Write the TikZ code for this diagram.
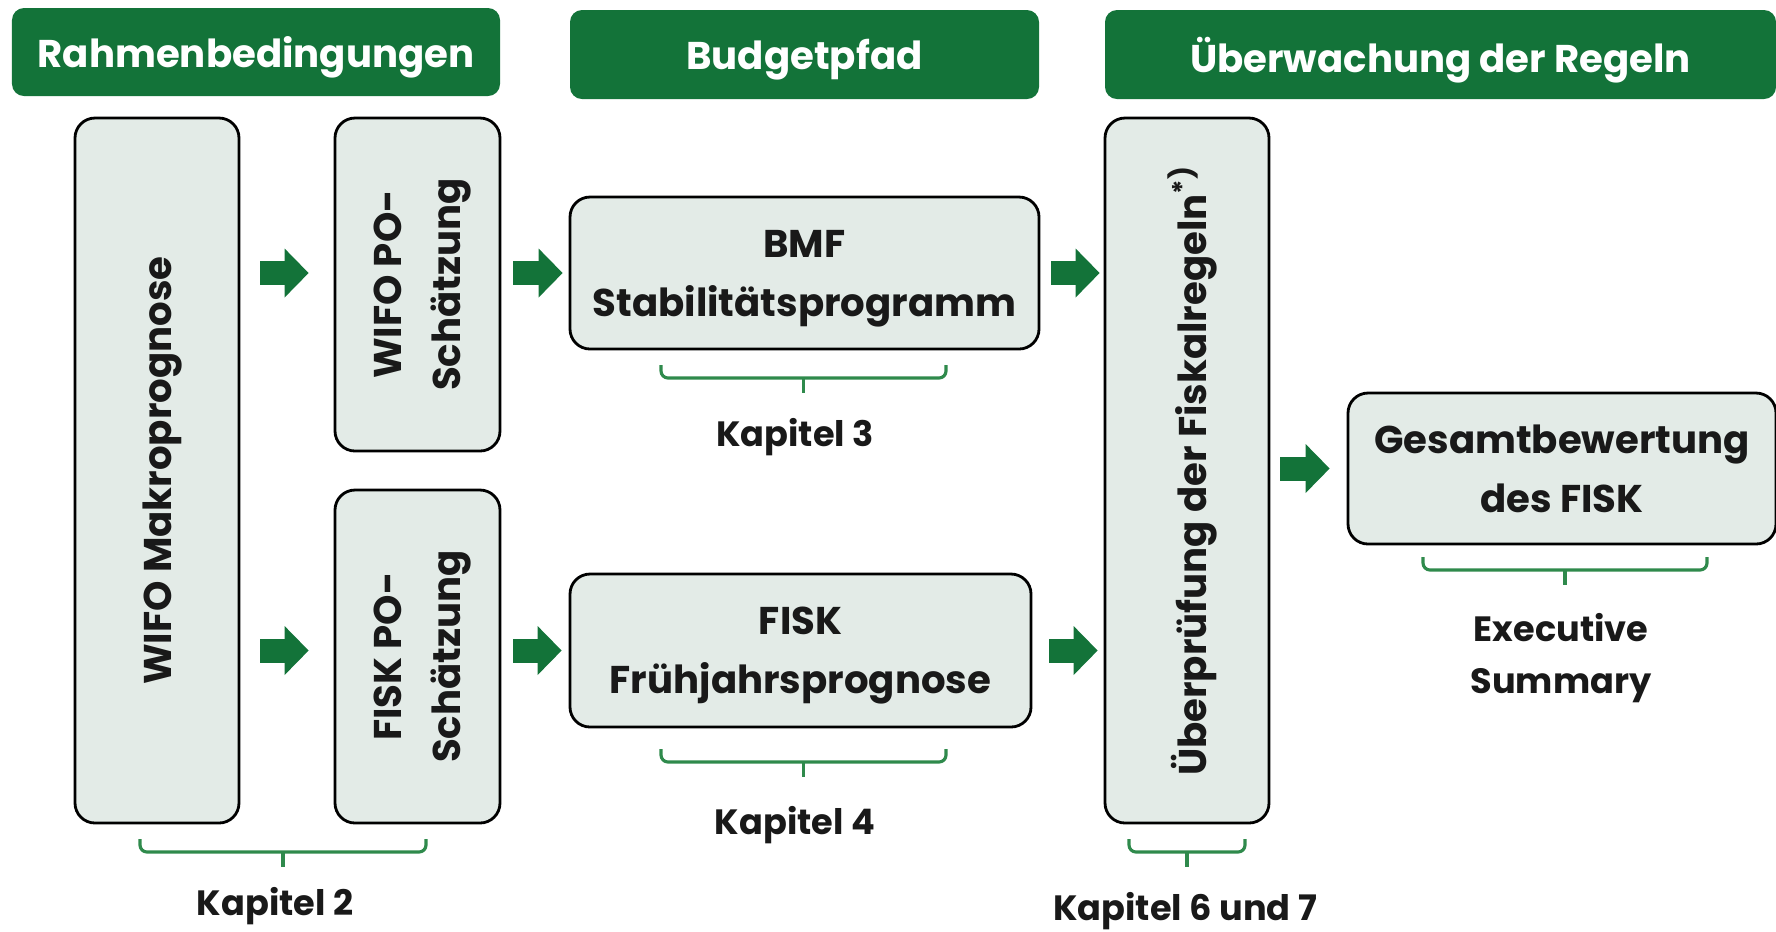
\documentclass[tikz,border=0pt]{standalone}
\usepackage{fontspec}
\setmainfont{Poppins}
\usetikzlibrary{arrows.meta, positioning}
\definecolor{fiskgreen}{HTML}{137339}
\definecolor{boxfill}{HTML}{E3EBE7}
\definecolor{bracegreen}{HTML}{2F8A4C}

\tikzset{
  header/.style={rectangle, rounded corners=0.12cm, fill=fiskgreen, text=white, text depth=0pt, font=\bfseries\fontsize{11}{13}\selectfont},
  stage/.style={rectangle, rounded corners=0.2cm, draw=black, line width=0.8pt, fill=boxfill},
  boxtext/.style={font=\bfseries\fontsize{11}{16.8}\selectfont, text=black!90, text depth=0pt, align=center},
  kapitel/.style={font=\bfseries\fontsize{10}{14.8}\selectfont, text=black!90, align=center},
  bigarrow/.style={fiskgreen, line width=0.24cm, -{Triangle[length=0.24cm, width=0.49cm, line width=0pt]}},
  kapbrace/.style={bracegreen, line width=0.9pt, rounded corners=2pt}
}

\begin{document}
\begin{tikzpicture}
\useasboundingbox (0,0) rectangle (17.76,-9.31);

% column headers
\node[header, minimum width=4.88cm, minimum height=0.88cm] (hrahmen) at (2.56,-0.52) {Rahmenbedingungen};
\node[header, minimum width=4.69cm, minimum height=0.89cm] (hbudget) at (8.045,-0.545) {Budgetpfad};
\node[header, minimum width=6.71cm, minimum height=0.89cm] (hregeln) at (14.405,-0.545) {Überwachung der Regeln};

% boxes
\node[stage, minimum width=1.64cm, minimum height=7.05cm] (makro) at (1.57,-4.705) {};
\node[stage, minimum width=1.65cm, minimum height=3.33cm] (wifopo) at (4.175,-2.845) {};
\node[stage, minimum width=1.65cm, minimum height=3.33cm] (fiskpo) at (4.175,-6.565) {};
\node[stage, minimum width=4.69cm, minimum height=1.52cm] (bmf) at (8.045,-2.73) {};
\node[stage, minimum width=4.61cm, minimum height=1.53cm] (fruehjahr) at (8.005,-6.505) {};
\node[stage, minimum width=1.64cm, minimum height=7.05cm] (pruefung) at (11.87,-4.705) {};
\node[stage, minimum width=4.28cm, minimum height=1.51cm] (gesamt) at (15.62,-4.685) {};

% texts inside the boxes
\node[boxtext, rotate=90] (makrotext) at (makro.center) {WIFO Makroprognose};
\node[boxtext, rotate=90] (wifopotext) at (wifopo.center) {WIFO PO-\\Schätzung};
\node[boxtext, rotate=90] (fiskpotext) at (fiskpo.center) {FISK PO-\\Schätzung};
\node[boxtext] (bmftext) at (bmf.center) {BMF\\Stabilitätsprogramm};
\node[boxtext] (fruehjahrtext) at (fruehjahr.center) {FISK\\Frühjahrsprognose};
\node[boxtext, rotate=90] (pruefungtext) at (pruefung.center) {Überprüfung der Fiskalregeln\textsuperscript{*)}};
\node[boxtext] (gesamttext) at (gesamt.center) {Gesamtbewertung\\des FISK};

% arrows
\draw[bigarrow, shorten <=0.2cm, shorten >=0.25cm] (makro.east |- bmf) -- (wifopo.west |- bmf);
\draw[bigarrow, shorten <=0.12cm, shorten >=0.06cm] (wifopo.east |- bmf) -- (bmf.west);
\draw[bigarrow, shorten <=0.11cm, shorten >=0.04cm] (bmf.east) -- (pruefung.west |- bmf);
\draw[bigarrow, shorten <=0.2cm, shorten >=0.25cm] (makro.east |- fruehjahr) -- (fiskpo.west |- fruehjahr);
\draw[bigarrow, shorten <=0.12cm, shorten >=0.07cm] (fiskpo.east |- fruehjahr) -- (fruehjahr.west);
\draw[bigarrow, shorten <=0.17cm, shorten >=0.06cm] (fruehjahr.east) -- (pruefung.west |- fruehjahr);
\draw[bigarrow, shorten <=0.10cm, shorten >=0.17cm] (pruefung.east |- gesamt) -- (gesamt.west);

% chapter labels
\node[kapitel] (kap2) at (2.75,-9.06) {Kapitel 2};
\node[kapitel] (kap3) at (7.95,-4.37) {Kapitel 3};
\node[kapitel] (kap4) at (7.95,-8.25) {Kapitel 4};
\node[kapitel] (kap67) at (11.85,-9.11) {Kapitel 6 und 7};
\node[kapitel] (kapexec) at (15.61,-6.58) {Executive\\Summary};

% braces: left, right, top
\foreach \bl/\br/\bt in {1.40/4.26/-8.39, 6.61/9.46/-3.65, 6.61/9.46/-7.49, 11.29/12.45/-8.39, 14.23/17.07/-5.57}
{
  \draw[kapbrace] (\bl,\bt) -- (\bl,\bt-0.13) -- (\br,\bt-0.13) -- (\br,\bt);
  \draw[kapbrace] ({(\bl+\br)/2},\bt-0.13) -- ++(0,-0.15);
}
\end{tikzpicture}
\end{document}
